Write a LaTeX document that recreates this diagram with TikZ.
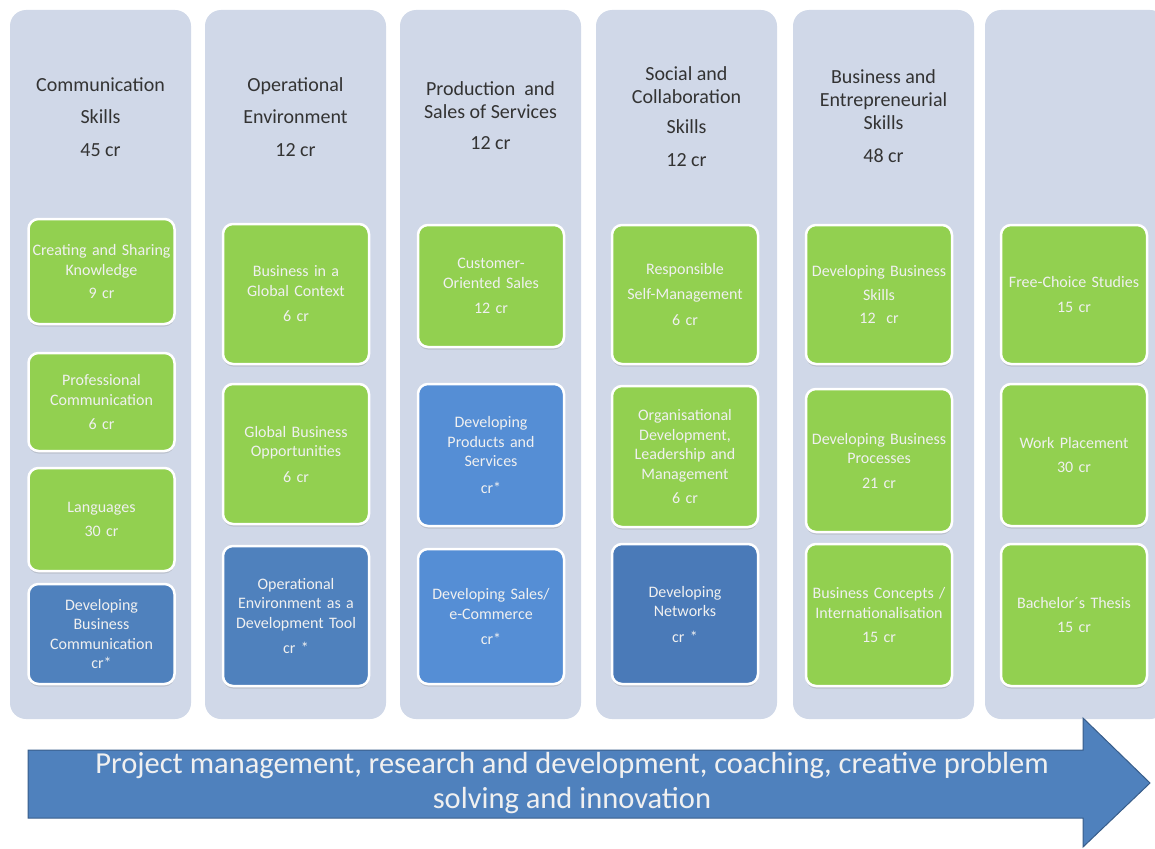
\documentclass[tikz,border=0pt]{standalone}
\usepackage{fontspec}
\setmainfont{Carlito}
\usetikzlibrary{shadows}
\definecolor{colbg}{HTML}{D0D8E8}
\definecolor{grn}{HTML}{92D050}
\definecolor{blu}{HTML}{4F81BD}
\definecolor{blulight}{HTML}{558ED5}
\definecolor{bludark}{HTML}{4A7AB8}
\definecolor{headtxt}{HTML}{333333}
\definecolor{arrowline}{HTML}{385D8A}

\begin{document}
\begin{tikzpicture}[x=1pt, y=-1pt,
    col/.style={fill=colbg, rounded corners=16pt, minimum width=181pt, minimum height=709pt, inner sep=0pt},
    head/.style={text=headtxt, align=center, font=\fontsize{20}{23}\selectfont},
    gbox/.style={fill=grn, draw=white, line width=2.5pt, rounded corners=10pt, minimum width=146pt,
      text width=146pt, inner sep=0pt, align=center, text=white!94!black, font=\fontsize{16}{19.5}\selectfont,
      drop shadow={shadow xshift=0pt, shadow yshift=-2.5pt, opacity=0.25}},
    bbox/.style={gbox, fill=blu}]

      \useasboundingbox (0,0) rectangle (1155,848);
      \clip (0,0) rectangle (1155,848);

      \node[col] (c1) at (100.5, 364.5) {};
      \node[col] (c2) at (295.5, 364.5) {};
      \node[col] (c3) at (490.5, 364.5) {};
      \node[col] (c4) at (686.5, 364.5) {};
      \node[col] (c5) at (883.5, 364.5) {};
      \node[col] (c6) at (1075.5, 364.5) {};

      \node[head] (h1) at (100.5, 117) {Communication\\[9pt]Skills\\[10pt]45 cr};
      \node[head] (h2) at (295.5, 117) {Operational\\[9pt]Environment\\[10pt]12 cr};
      \node[head] (h3) at (490.5, 116) {Production\ \ and\\Sales of Services\\[8pt]12 cr};
      \node[head] (h4) at (686.5, 116.5) {Social and\\Collaboration\\[7pt]Skills\\[10pt]12 cr};
      \node[head] (h5) at (883.5, 116.5) {Business and\\Entrepreneurial\\Skills\\[10pt]48 cr};

      \node[gbox, minimum height=105pt] (b11) at (101.5, 271.5) {Creating and Sharing\\Knowledge\\[4pt]9 cr};
      \node[gbox, minimum height=98pt] (b12) at (101.5, 402) {Professional\\Communication\\[5pt]6 cr};
      \node[gbox, minimum height=103pt] (b13) at (101.5, 519.5) {Languages\\[5pt]30 cr};
      \node[bbox, minimum height=100pt] (b14) at (101.5, 634) {Developing\\Business\\Communication\\cr*};

      \node[gbox, minimum height=140pt] (b21) at (296, 294) {Business in a\\Global Context\\[6pt]6 cr};
      \node[gbox, minimum height=140pt] (b22) at (296, 454) {Global Business\\Opportunities\\[6pt]6 cr};
      \node[bbox, minimum height=140pt] (b23) at (296, 616) {Operational\\Environment as a\\Development Tool\\[6pt]cr *};

      \node[gbox, minimum height=122pt] (b31) at (491, 286) {Customer-\\Oriented Sales\\[6pt]12 cr};
      \node[bbox, fill=blulight, minimum height=142pt] (b32) at (491, 455) {Developing\\Products and\\Services\\[7pt]cr*};
      \node[bbox, fill=blulight, minimum height=135pt] (b33) at (491, 616.5) {Developing Sales/\\e-Commerce\\[6pt]cr*};

      \node[gbox, minimum height=139pt] (b41) at (685, 294.5) {Responsible\\[6pt]Self-Management\\[6pt]6 cr};
      \node[gbox, minimum height=141pt] (b42) at (685, 456.5) {Organisational\\Development,\\Leadership and\\Management\\[5pt]6 cr};
      \node[bbox, fill=bludark, minimum height=140pt] (b43) at (685, 614) {Developing\\Networks\\[6pt]cr *};

      \node[gbox, minimum height=139pt] (b51) at (879, 294.5) {Developing Business\\[4pt]Skills\\[4pt]12\ \ cr};
      \node[gbox, minimum height=143pt] (b52) at (879, 460.5) {Developing Business\\Processes\\[5pt]21 cr};
      \node[gbox, minimum height=142pt] (b53) at (879, 615) {Business Concepts /\\Internationalisation\\[5pt]15 cr};

      \node[gbox, minimum height=139pt] (b61) at (1074, 294.5) {Free-Choice Studies\\[5pt]15 cr};
      \node[gbox, minimum height=142pt] (b62) at (1074, 455) {Work Placement\\[5pt]30 cr};
      \node[gbox, minimum height=142pt] (b63) at (1074, 615) {Bachelor´s Thesis\\[5pt]15 cr};

      \draw[fill=blu, draw=arrowline, line width=1pt] (28,750) -- (1083,750) -- (1083,718) -- (1150,783)
        -- (1083,847) -- (1083,818) -- (28,818) -- cycle;
      \node[text=white!94!black, align=center, font=\fontsize{30.5}{35}\selectfont] (note) at (572, 783)
        {Project management, research and development, coaching, creative problem\\solving and innovation};

    \end{tikzpicture}
\end{document}
